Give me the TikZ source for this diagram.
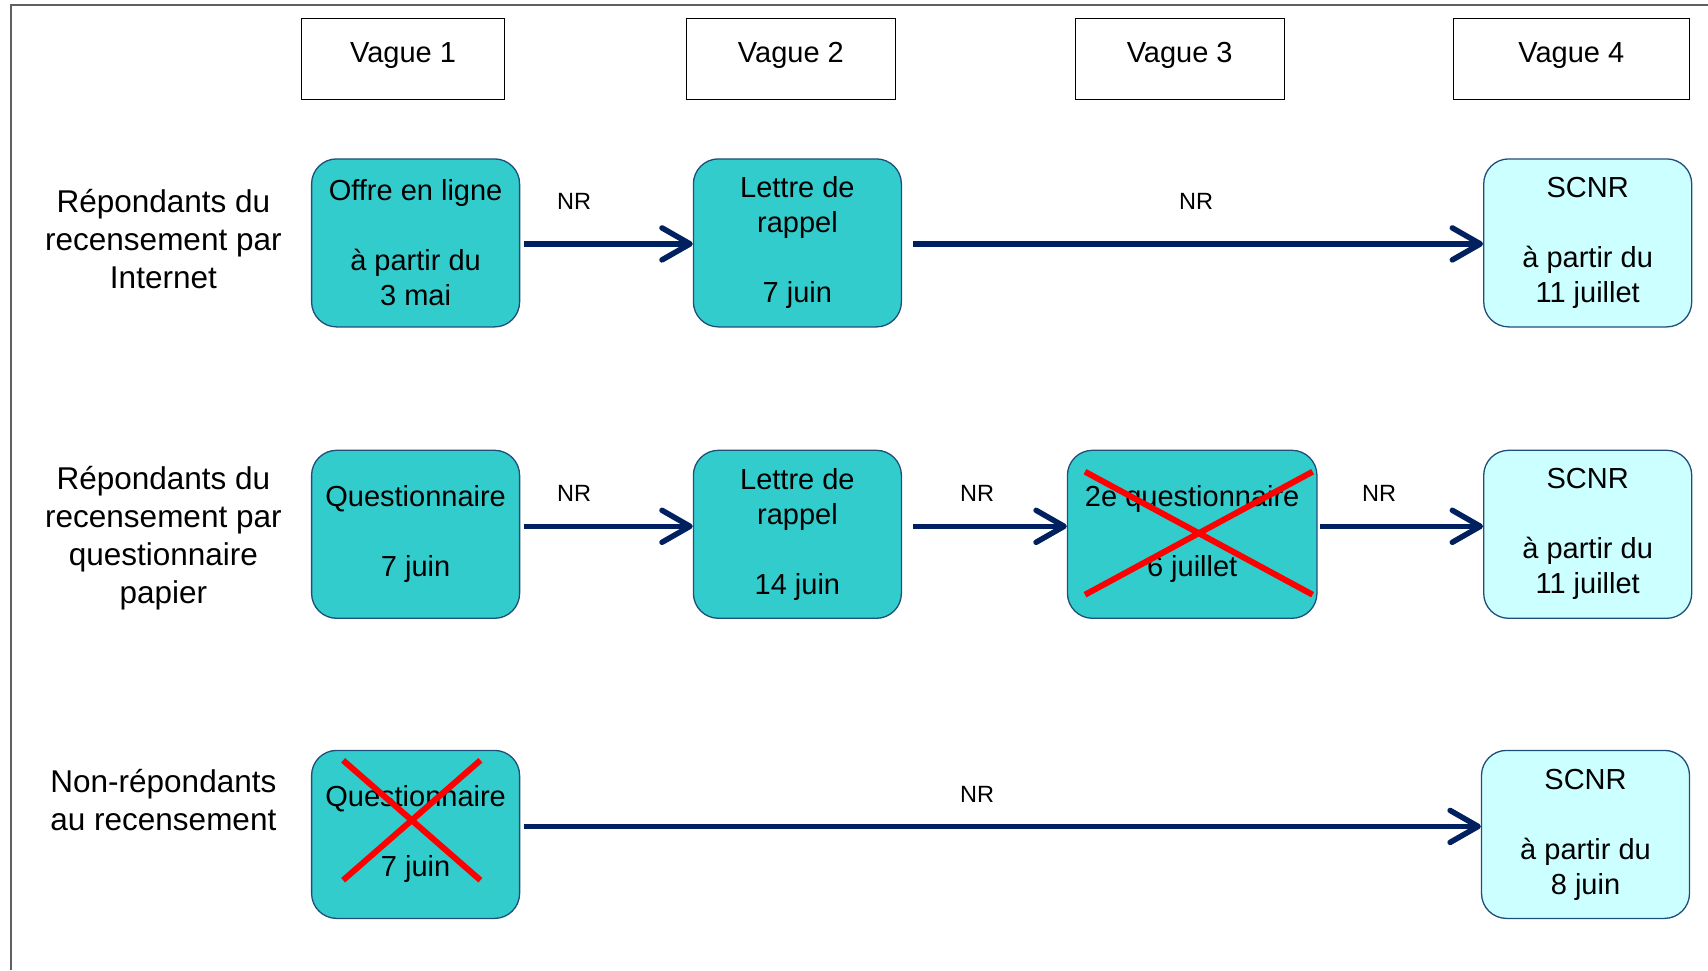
\documentclass[tikz,border=0pt]{standalone}
\usepackage{fontspec}
\setmainfont{Liberation Sans}
\usetikzlibrary{arrows.meta}
\definecolor{teal1}{HTML}{33CCCC}
\definecolor{cyan1}{HTML}{CCFFFF}
\definecolor{navy}{HTML}{002060}
\definecolor{boxline}{HTML}{1F4E79}
\definecolor{framegray}{HTML}{606060}
\begin{document}
\begin{tikzpicture}[x=1pt,y=-1pt,
  hdr/.style={draw=black, line width=1.2pt, minimum height=80.6pt, text depth=13pt, font=\fontsize{29}{35}\selectfont, inner sep=0pt},
  stage/.style={draw=boxline, line width=1.3pt, rounded corners=25pt, minimum width=208pt, minimum height=168pt, align=center, font=\fontsize{29}{35}\selectfont, inner sep=0pt},
  act/.style={stage, fill=teal1},
  scnr/.style={stage, fill=cyan1},
  rowlbl/.style={align=center, font=\fontsize{31.5}{38}\selectfont},
  nr/.style={font=\fontsize{23.5}{28}\selectfont},
  flow/.style={draw=navy, line width=5.5pt, -{Straight Barb[length=28pt,width=32pt,line cap=round,line join=round]}},
  cross/.style={draw=red, line width=6pt}
]
\useasboundingbox (0,0) rectangle (1708,970);
\draw[line width=2pt, color=framegray] (11,970) -- (11,5) -- (1708,5);

% headers
\node[hdr, minimum width=202.6pt] (v1) at (403,58.8) {Vague 1};
\node[hdr, minimum width=209.1pt] (v2) at (790.9,58.8) {Vague 2};
\node[hdr, minimum width=209.2pt] (v3) at (1179.7,58.8) {Vague 3};
\node[hdr, minimum width=236.4pt] (v4) at (1571.3,58.8) {Vague 4};

% row labels
\node[rowlbl] (l1) at (163.4,238.6) {Répondants du\\recensement par\\Internet};
\node[rowlbl] (l2) at (163.4,538) {Répondants du\\recensement par\\questionnaire\\papier};
\node[rowlbl] (l3) at (163.4,800) {Non-répondants\\au recensement};

% row 1
\node[act] (a1) at (415.6,242.9) {Offre en ligne\\~\\à partir du\\3 mai};
\node[act] (b1) at (797.4,242.9) {Lettre de\\rappel\\~\\7 juin};
\node[scnr] (d1) at (1587.7,242.9) {SCNR\\~\\à partir du\\11 juillet};

% row 2
\node[act] (a2) at (415.6,534.3) {Questionnaire\\~\\7 juin};
\node[act] (b2) at (797.4,534.3) {Lettre de\\rappel\\~\\14 juin};
\node[act, minimum width=249.5pt] (c2) at (1192.2,534.3) {2e questionnaire\\~\\6 juillet};
\node[scnr] (d2) at (1587.7,534.3) {SCNR\\~\\à partir du\\11 juillet};

% row 3
\node[act] (a3) at (415.6,834.4) {Questionnaire\\~\\7 juin};
\node[scnr] (d3) at (1585.5,834.4) {SCNR\\~\\à partir du\\8 juin};

% arrows
\draw[flow] ([xshift=3.5pt,yshift=-1pt]a1.east) -- ([yshift=-1pt]b1.west);
\draw[flow] ([xshift=11pt,yshift=-1pt]b1.east) -- ([yshift=-1pt]d1.west);
\draw[flow] ([xshift=3.5pt,yshift=8pt]a2.east) -- ([yshift=8pt]b2.west);
\draw[flow] ([xshift=11pt,yshift=8pt]b2.east) -- ([yshift=8pt]c2.west);
\draw[flow] ([xshift=2pt,yshift=8pt]c2.east) -- ([yshift=8pt]d2.west);
\draw[flow] ([xshift=3.5pt,yshift=8pt]a3.east) -- ([yshift=8pt]d3.west);

% NR labels
\node[nr] (n1) at (574,201.5) {NR};
\node[nr] (n2) at (1196,201.5) {NR};
\node[nr] (n3) at (574,493.5) {NR};
\node[nr] (n4) at (977,493.5) {NR};
\node[nr] (n5) at (1379,493.5) {NR};
\node[nr] (n6) at (977,794) {NR};

% crosses
\draw[cross] (1085,471.7) -- (1312.6,594.7) (1085,594.7) -- (1312.6,471.7);
\draw[cross] (343.1,760.3) -- (480.4,880.2) (343.1,880.2) -- (480.4,760.3);
\end{tikzpicture}
\end{document}
